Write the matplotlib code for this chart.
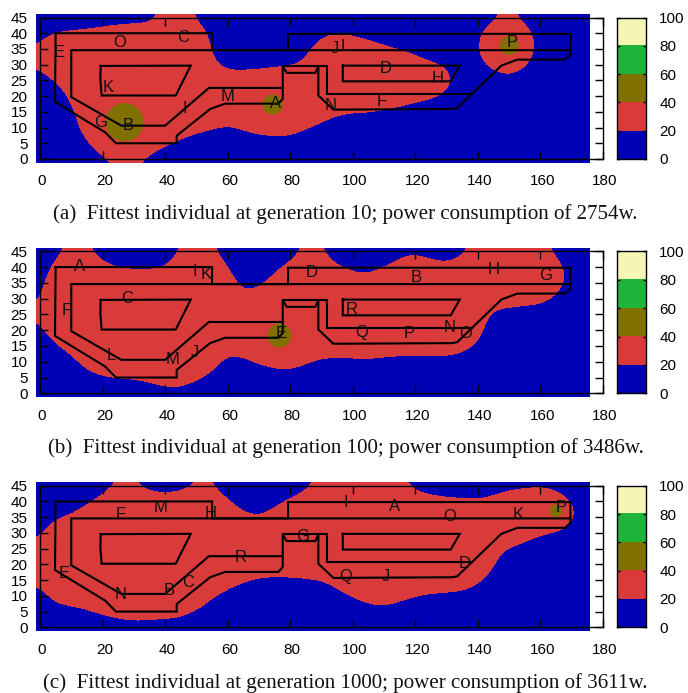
"""Three panels: light level over the floor plan, fittest layouts at gen 10/100/1000."""
import matplotlib
matplotlib.use("Agg")
import matplotlib.pyplot as plt
from matplotlib.colors import BoundaryNorm, ListedColormap
from matplotlib.patches import Circle, Rectangle
from matplotlib.transforms import ScaledTranslation

W, H = 688, 693

levels = [0, 20, 40, 60, 80, 100]
band_colors = ["#0000b4", "#d93b3b", "#807000", "#1fb53a", "#f6f6b4"]
band_mid = [[90], [70], [50], [30], [10]]

x_ticks = [0, 20, 40, 60, 80, 100, 120, 140, 160, 180]
y_ticks = [0, 5, 10, 15, 20, 25, 30, 35, 40, 45]

# floor plan outline, same in every panel
outer_x = [5, 55, 55, 79.3, 79.3, 169.6, 169.6, 167.8, 152.6, 147.5, 133.4, 131.8, 93.8, 89, 89,
           88, 78.9, 77.6, 77.6, 76.2, 59.2, 54.4, 43.7, 43.7, 24.3, 20.8, 4.8, 5]
outer_y = [40, 40, 34.6, 34.6, 39.8, 39.8, 33.2, 31.6, 31.6, 29.7, 16.2, 15.9, 15.7, 20.2, 29.5,
           27.4, 27.4, 29.5, 19.1, 17.6, 17.6, 15.9, 7.4, 5, 5, 8.5, 18.2, 40]
inner_x = [169.6, 10, 10, 26, 40, 54, 77.6]
inner_y = [34.6, 34.6, 19.7, 10.6, 10.6, 22.6, 22.6]
step_x = [77.6, 91.7, 91.7, 138.2]
step_y = [29.7, 29.7, 20.8, 20.8]
isle1_x = [19.4, 48.2, 43.4, 19.7, 19.3, 19.4]
isle1_y = [29.6, 29.7, 20.2, 20.2, 25.3, 29.6]
isle2_x = [96.8, 134.2, 131.3, 96.8, 96.8]
isle2_y = [29.7, 29.7, 24.7, 24.7, 29.7]

# light level read on a 5x5 grid: x = 0..175, rows from y = 45 down to y = 0
heat_a = [
    [4, 6, 8, 10, 12, 13, 14, 14, 26, 28, 18, 10, 4, 3, 3, 3, 3, 3, 3, 3, 3, 3, 3, 3, 3, 3, 3, 3, 9, 17, 25, 15, 8, 3, 3, 3],
    [15, 21, 23, 24, 26, 28, 29, 30, 35, 35, 30, 15, 5, 4, 5, 5, 5, 7, 16, 21, 18, 14, 10, 5, 4, 4, 4, 3, 18, 30, 35, 27, 13, 4, 3, 3],
    [22, 35, 37, 37, 37, 37, 37, 37, 37, 37, 35, 20, 5, 3, 3, 3, 4, 16, 30, 36, 32, 28, 24, 19, 14, 8, 3, 5, 20, 35, 37, 30, 15, 4, 3, 3],
    [24, 33, 37, 37, 37, 37, 37, 37, 37, 37, 37, 23, 15, 15, 16, 18, 19, 24, 36, 37, 37, 37, 37, 37, 29, 24, 19, 5, 15, 26, 30, 23, 10, 3, 3, 3],
    [12, 22, 32, 37, 37, 37, 37, 37, 37, 37, 37, 37, 30, 30, 31, 33, 35, 37, 37, 37, 37, 37, 37, 37, 37, 37, 27, 10, 4, 12, 15, 10, 3, 3, 3, 3],
    [3, 10, 24, 35, 37, 37, 37, 37, 37, 37, 37, 37, 37, 37, 37, 37, 37, 37, 37, 37, 37, 36, 33, 30, 27, 23, 17, 3, 3, 3, 3, 3, 3, 3, 3, 3],
    [3, 4, 17, 32, 37, 37, 37, 37, 37, 37, 37, 37, 33, 37, 37, 37, 37, 37, 30, 24, 21, 21, 18, 15, 11, 8, 3, 3, 3, 3, 3, 3, 3, 3, 3, 3],
    [3, 3, 12, 28, 37, 37, 37, 37, 36, 31, 26, 22, 18, 23, 27, 28, 28, 22, 15, 9, 6, 5, 4, 3, 3, 3, 3, 3, 3, 3, 3, 3, 3, 3, 3, 3],
    [3, 3, 8, 18, 32, 37, 37, 30, 23, 16, 11, 7, 4, 8, 12, 13, 13, 7, 3, 3, 3, 3, 3, 3, 3, 3, 3, 3, 3, 3, 3, 3, 3, 3, 3, 3],
    [3, 3, 3, 9, 16, 23, 23, 16, 9, 5, 3, 3, 3, 3, 3, 3, 3, 3, 3, 3, 3, 3, 3, 3, 3, 3, 3, 3, 3, 3, 3, 3, 3, 3, 3, 3],
]
heat_b = [
    [3, 15, 25, 24, 11, 5, 3, 3, 9, 22, 28, 24, 9, 3, 3, 4, 12, 25, 22, 9, 4, 3, 5, 14, 16, 12, 9, 15, 30, 32, 32, 32, 28, 15, 4, 3],
    [10, 25, 33, 34, 25, 19, 15, 15, 20, 30, 37, 35, 20, 8, 5, 16, 25, 32, 32, 21, 15, 13, 20, 27, 30, 27, 24, 30, 37, 37, 37, 37, 37, 28, 12, 3],
    [14, 32, 37, 37, 37, 37, 37, 37, 37, 37, 37, 37, 28, 14, 16, 27, 35, 37, 37, 37, 30, 28, 35, 37, 37, 37, 37, 37, 37, 37, 37, 37, 37, 29, 14, 3],
    [18, 35, 37, 37, 37, 37, 37, 37, 37, 37, 37, 37, 37, 24, 29, 37, 37, 37, 37, 37, 37, 37, 37, 37, 37, 37, 37, 37, 37, 32, 29, 28, 26, 19, 3, 3],
    [24, 37, 37, 37, 37, 37, 37, 37, 37, 37, 37, 37, 37, 37, 37, 37, 37, 37, 37, 37, 37, 37, 37, 37, 37, 37, 37, 37, 30, 16, 14, 12, 11, 5, 3, 3],
    [16, 31, 37, 37, 37, 37, 37, 37, 37, 37, 37, 37, 37, 37, 37, 37, 37, 37, 37, 37, 37, 37, 37, 37, 37, 37, 37, 37, 26, 11, 5, 3, 3, 3, 3, 3],
    [9, 18, 27, 35, 37, 37, 37, 37, 37, 37, 37, 37, 29, 31, 37, 37, 37, 37, 32, 32, 32, 33, 31, 30, 30, 30, 30, 27, 18, 5, 3, 3, 3, 3, 3, 3],
    [3, 10, 15, 27, 34, 37, 37, 37, 37, 37, 37, 29, 14, 16, 23, 27, 28, 23, 17, 17, 17, 18, 16, 15, 14, 14, 15, 12, 5, 3, 3, 3, 3, 3, 3, 3],
    [3, 3, 7, 14, 19, 22, 22, 25, 29, 29, 24, 15, 5, 5, 8, 12, 13, 8, 3, 3, 3, 3, 3, 3, 3, 3, 3, 3, 3, 3, 3, 3, 3, 3, 3, 3],
    [3, 3, 3, 3, 3, 3, 8, 10, 14, 14, 9, 3, 3, 3, 3, 3, 3, 3, 3, 3, 3, 3, 3, 3, 3, 3, 3, 3, 3, 3, 3, 3, 3, 3, 3, 3],
]
heat_c = [
    [3, 3, 3, 5, 14, 22, 22, 13, 11, 13, 21, 21, 11, 3, 3, 5, 10, 16, 25, 30, 30, 30, 30, 24, 15, 11, 10, 8, 7, 11, 15, 16, 17, 15, 9, 3],
    [3, 5, 9, 18, 26, 32, 34, 32, 30, 32, 34, 31, 22, 11, 9, 15, 23, 29, 37, 37, 37, 37, 37, 37, 30, 26, 24, 23, 22, 26, 30, 31, 32, 30, 20, 8],
    [7, 18, 23, 30, 36, 37, 37, 37, 37, 37, 37, 37, 35, 25, 20, 28, 36, 37, 37, 37, 37, 37, 37, 37, 37, 37, 37, 37, 37, 37, 37, 37, 37, 37, 24, 8],
    [18, 32, 37, 37, 37, 37, 37, 37, 37, 37, 37, 37, 37, 37, 37, 37, 37, 37, 37, 37, 37, 37, 37, 37, 37, 37, 37, 37, 37, 37, 35, 29, 23, 19, 14, 3],
    [24, 37, 37, 37, 37, 37, 37, 37, 37, 37, 37, 37, 37, 37, 37, 37, 37, 37, 37, 37, 37, 37, 37, 37, 37, 37, 37, 37, 37, 26, 19, 14, 9, 5, 3, 3],
    [37, 37, 37, 37, 37, 37, 37, 37, 37, 37, 37, 37, 37, 37, 37, 37, 37, 37, 37, 37, 37, 37, 37, 37, 37, 37, 37, 37, 35, 22, 9, 3, 3, 3, 3, 3],
    [24, 37, 37, 37, 37, 37, 37, 37, 37, 37, 37, 37, 29, 23, 17, 15, 16, 18, 21, 28, 36, 37, 37, 37, 37, 37, 32, 30, 24, 12, 3, 3, 3, 3, 3, 3],
    [14, 27, 30, 34, 37, 37, 37, 37, 37, 37, 33, 22, 14, 8, 5, 3, 3, 4, 6, 14, 22, 28, 30, 26, 21, 17, 17, 16, 11, 3, 3, 3, 3, 3, 3, 3],
    [3, 13, 15, 18, 24, 27, 28, 28, 27, 26, 19, 11, 4, 3, 3, 3, 3, 3, 3, 3, 8, 13, 15, 11, 6, 3, 3, 3, 3, 3, 3, 3, 3, 3, 3, 3],
    [3, 3, 3, 5, 8, 12, 14, 13, 12, 11, 5, 3, 3, 3, 3, 3, 3, 3, 3, 3, 3, 3, 3, 3, 3, 3, 3, 3, 3, 3, 3, 3, 3, 3, 3, 3],
]

# olive hot spots: x, y, radius
hot_a = ([27, 74.4, 150], [11.7, 17.3, 36.1], [6.1, 3.2, 3])
hot_b = ([76.5], [18.3], [3.8])
hot_c = ([165], [37], [2])

names_a = list("EOCJLKGBIMANDHFP")
lab_x_a = [6.2, 25.4, 45.8, 94.3, 97.5, 21.9, 19.4, 28.3, 46.4, 59.9, 75.4, 93, 110.5, 127, 109.4, 151]
lab_y_a = [34, 37.2, 38.5, 35.2, 35.7, 22.6, 11.7, 10.6, 16.2, 20, 17.8, 17, 28.7, 25.6, 18.4, 36.9]
names_b = list("AIKDFCLMJEBHGRQPNO")
lab_x_b = [12.5, 49.6, 53, 86.9, 8.5, 27.9, 22.9, 42.3, 49.6, 77, 120.4, 144.9, 161.6, 99.5, 103, 118, 131, 136.1]
lab_y_b = [40.1, 38.5, 37.5, 38.3, 26.1, 29.9, 12, 10.6, 13, 18.8, 36.6, 39.3, 37.2, 26.5, 19.4, 18.8, 20.7, 19.1]
names_c = list("FMHGENBCRIAOKPDJQ")
lab_x_c = [25.9, 38.4, 54.4, 83.9, 7.8, 25.9, 41.4, 47.4, 64, 97.7, 113.5, 131, 152.9, 166.5, 135.9, 110.7, 97.7]
lab_y_c = [35.8, 38.1, 36.3, 28.9, 17, 10.5, 11.6, 14.2, 22.2, 39.8, 38.4, 35.2, 35.7, 38.2, 20.2, 16.2, 16.2]

captions = ["(a)  Fittest individual at generation 10; power consumption of 2754w.",
            "(b)  Fittest individual at generation 100; power consumption of 3486w.",
            "(c)  Fittest individual at generation 1000; power consumption of 3611w."]

cmap = ListedColormap(band_colors)
norm = BoundaryNorm(levels, cmap.N)


def px_axes(fig, left, top, right, bottom):
    return fig.add_axes([left / W, 1 - bottom / H, (right - left) / W, (bottom - top) / H])


def panel(fig, top, bottom, heat, hot, names, lab_x, lab_y):
    ax = px_axes(fig, 40, top, 603, bottom)
    im = ax.imshow(heat, extent=(-2.5, 177.5, -2.5, 47.5), origin="upper", aspect="auto",
                   cmap=cmap, norm=norm, interpolation="bicubic", interpolation_stage="data")
    # the colour field sticks out a little past the frame on three sides
    im.set_clip_path(Rectangle((-1.3, -1.2), 177.1, 47.3, transform=ax.transData))
    for hx, hy, hr in zip(*hot):
        ax.add_patch(Circle((hx, hy), hr, color=band_colors[2], lw=0, zorder=2))
    for xs, ys in [(outer_x, outer_y), (inner_x, inner_y), (step_x, step_y),
                   (isle1_x, isle1_y), (isle2_x, isle2_y)]:
        ax.plot(xs, ys, color="black", lw=1.5, zorder=3, solid_joinstyle="miter")
    for n, lx, ly in zip(names, lab_x, lab_y):
        ax.text(lx, ly, n, ha="center", va="center", fontsize=12, color="#111111", zorder=4)
    ax.set_xlim(0, 180)
    ax.set_ylim(0, 45)
    ax.set_xticks(x_ticks)
    ax.set_yticks(y_ticks)
    ax.tick_params(direction="in", length=6, width=1.0, top=True, right=True, labelsize=11, color="black")
    ax.tick_params(axis="x", pad=11)
    ax.tick_params(axis="y", pad=9)
    shift = ScaledTranslation(2 / 100, 0, fig.dpi_scale_trans)
    for t in ax.get_xticklabels():
        t.set_transform(t.get_transform() + shift)
    for s in ax.spines.values():
        s.set_linewidth(1.0)

    cb = px_axes(fig, 617, top, 646, bottom)
    cb.imshow(band_mid, extent=(0, 1, 0, 100), aspect="auto", cmap=cmap, norm=norm)
    cb.set_xticks([])
    cb.set_yticks(levels)
    cb.yaxis.tick_right()
    cb.tick_params(direction="in", length=2.5, width=1.0, left=True, right=True, labelsize=11, pad=9.5)
    for s in cb.spines.values():
        s.set_linewidth(1.0)


def main():
    plt.rcParams["font.family"] = ["Liberation Sans", "DejaVu Sans"]
    fig = plt.figure(figsize=(W / 100, H / 100), dpi=100)
    panel(fig, 17.5, 159, heat_a, hot_a, names_a, lab_x_a, lab_y_a)
    panel(fig, 251.3, 393.3, heat_b, hot_b, names_b, lab_x_b, lab_y_b)
    panel(fig, 485.7, 627.3, heat_c, hot_c, names_c, lab_x_c, lab_y_c)
    for cap, cy in zip(captions, [214.5, 448.2, 683.2]):
        fig.text(345.5 / W, 1 - cy / H, cap, ha="center", va="center", fontsize=15.1,
                 family=["Liberation Serif"], color="#111111")
    fig.savefig("out.png", dpi=100)


if __name__ == "__main__":
    main()
